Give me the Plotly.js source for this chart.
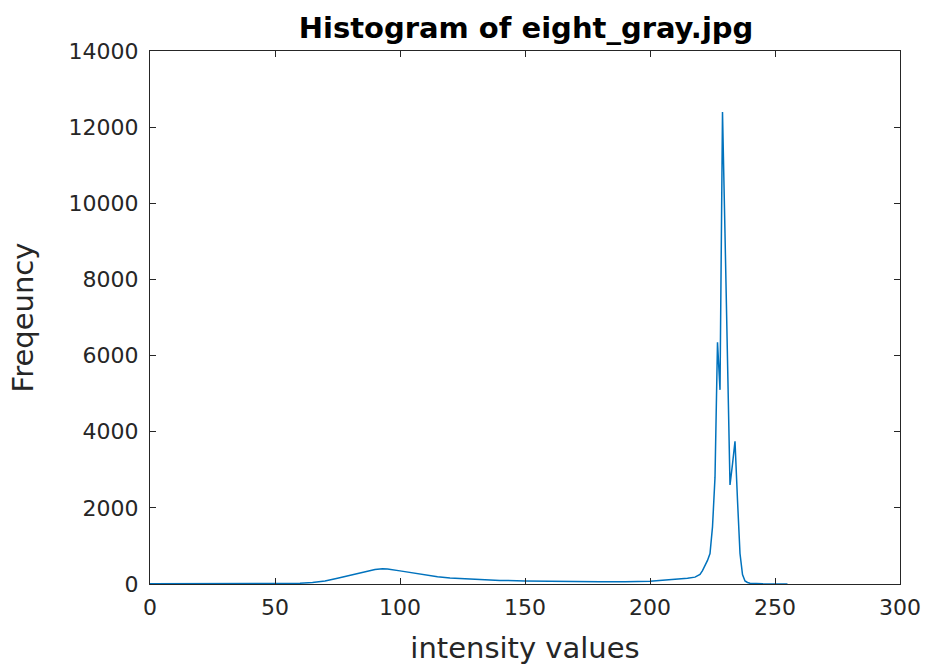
<!DOCTYPE html>
<html>
<head>
<meta charset="utf-8">
<script src="https://cdn.plot.ly/plotly-3.0.1.min.js"></script>
<style>html,body{margin:0;padding:0;background:#fff;}#chart{width:931px;height:667px;}</style>
</head>
<body>
<div id="chart"></div>
<script>
const intensity = [0,10,20,30,40,50,55,60,65,70,75,80,85,90,93,95,100,105,110,115,120,130,140,150,160,170,180,190,200,205,210,215,218,220,221,222,223,224,225,226,227,228,229,230,231,232,233,234,235,236,237,238,239,240,245,250,255];
const frequency = [5,5,5,5,5,8,10,20,40,80,150,220,310,380,400,395,345,290,240,190,160,120,95,80,70,65,60,60,70,100,120,150,180,250,350,480,620,800,1500,2800,6350,5100,12400,9200,5900,2600,3150,3750,2200,800,250,80,40,20,8,3,0];
const xTicks = [0,50,100,150,200,250,300];
const yTicks = [0,2000,4000,6000,8000,10000,12000,14000];

const axisColor = '#262626';
const font = 'DejaVu Sans, sans-serif';

Plotly.newPlot('chart', [{
  x: intensity,
  y: frequency,
  type: 'scatter',
  mode: 'lines',
  line: {color: '#0072BD', width: 1.5},
  hoverinfo: 'x+y'
}], {
  width: 931, height: 667,
  margin: {l: 150, r: 31, t: 51, b: 83},
  paper_bgcolor: '#ffffff',
  plot_bgcolor: '#ffffff',
  showlegend: false,
  title: {
    text: '<b>Histogram of eight_gray.jpg</b>',
    font: {family: font, size: 29, color: '#000000'},
    x: 0.565, xanchor: 'center', y: 0.958, yanchor: 'middle'
  },
  xaxis: {
    range: [0, 300],
    tickvals: xTicks,
    ticktext: xTicks.map(String),
    ticks: 'inside', ticklen: 6, tickwidth: 1, tickcolor: axisColor,
    showline: true, linecolor: axisColor, linewidth: 1, mirror: 'ticks',
    showgrid: false, zeroline: false,
    ticklabelstandoff: 4,
    tickfont: {family: font, size: 22, color: axisColor},
    title: {text: 'intensity values', font: {family: font, size: 29, color: axisColor}, standoff: 18}
  },
  yaxis: {
    range: [0, 14000],
    tickvals: yTicks,
    ticktext: yTicks.map(String),
    ticks: 'inside', ticklen: 6, tickwidth: 1, tickcolor: axisColor,
    showline: true, linecolor: axisColor, linewidth: 1, mirror: 'ticks',
    showgrid: false, zeroline: false,
    ticklabelstandoff: 6,
    tickfont: {family: font, size: 22, color: axisColor},
    title: {text: 'Freqeuncy', font: {family: font, size: 29, color: axisColor}, standoff: 26}
  }
}, {displayModeBar: false, staticPlot: false});
</script>
</body>
</html>
